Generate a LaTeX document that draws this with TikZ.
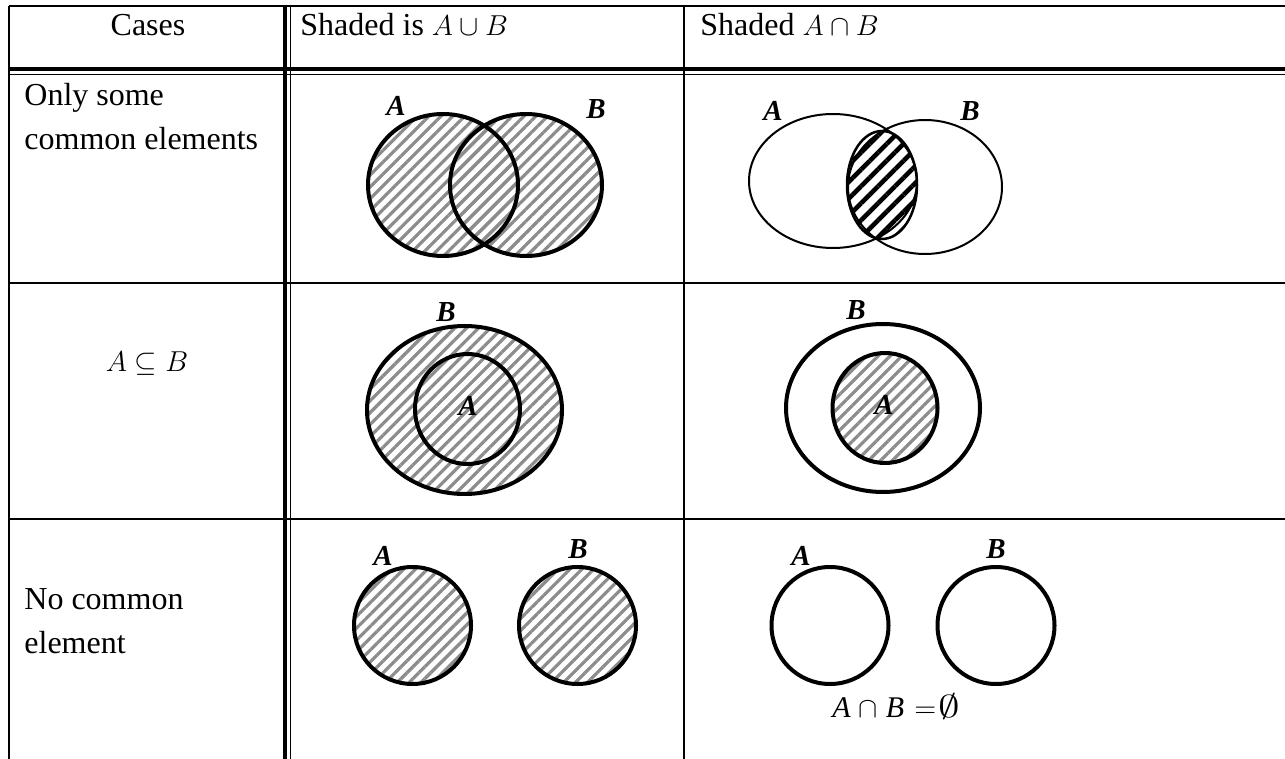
\documentclass[tikz,border=0pt]{standalone}
\usepackage{fontspec}
\setmainfont{Liberation Serif}
\usetikzlibrary{patterns.meta}
\newcommand\mth[1]{{\fontsize{13.5}{16}\selectfont$#1$}}
\tikzset{
  tbl/.style={line width=1.25pt},
  tblthick/.style={line width=1.75pt},
  tblthin/.style={line width=0.75pt},
  setthick/.style={line width=2pt},
  setthin/.style={line width=1pt},
  lensln/.style={line width=1.25pt},
  hatchgray/.style={pattern={Lines[angle=45,distance=4.2pt,line width=1.6pt]}, pattern color=black!45},
  hatchblack/.style={pattern={Lines[angle=45,distance=6pt,line width=2.3pt]}, pattern color=black},
  setlabel/.style={font=\fontsize{14.5}{14.5}\selectfont\bfseries\itshape, inner sep=0pt},
  celltext/.style={font=\fontsize{16}{19}\selectfont, inner sep=0pt},
}
\begin{document}
\begin{tikzpicture}[x=0.5pt,y=-0.5pt]
\useasboundingbox (0,0) rectangle (1285,759);
\fill[white] (0,0) rectangle (1285,759);
% ---- table rules
\draw[tbl] (9,6) -- (1285,6);
\draw[tbl] (9,6) -- (9,759);
\draw[tblthick] (285,6) -- (285,759);
\draw[tblthin] (290.5,6) -- (290.5,759);
\draw[tbl] (684,6) -- (684,759);
\draw[tblthick] (9,69) -- (1285,69);
\draw[tblthin] (9,74.5) -- (1285,74.5);
\draw[tbl] (9,283) -- (1285,283);
\draw[tbl] (9,519) -- (1285,519);
% ---- header
\node[celltext, anchor=base] (hcases) at (148,36) {Cases};
\node[celltext, anchor=base west] (hunion) at (300,36) {Shaded is \mth{A\cup B}};
\node[celltext, anchor=base west] (hinter) at (700,36) {Shaded \mth{A\cap B}};
% ---- case texts
\node[celltext, anchor=base west] (c1a) at (24,106) {Only some};
\node[celltext, anchor=base west] (c1b) at (24,150) {common elements};
\node[celltext] (c2) at (147,364) {\mth{A\subseteq B}};
\node[celltext, anchor=base west] (c3a) at (24,609) {No common};
\node[celltext, anchor=base west] (c3b) at (24,653) {element};
% ---- row 1, union
\path[hatchgray] (443,185) ellipse [x radius=75, y radius=71];
\path[hatchgray] (526,185) ellipse [x radius=76, y radius=71];
\draw[setthick] (443,185) ellipse [x radius=75, y radius=71];
\draw[setthick] (526,185) ellipse [x radius=76, y radius=71];
\node[setlabel] (u1a) at (396,106) {A};
\node[setlabel] (u1b) at (596,109) {B};
% ---- row 1, intersection
\draw[setthin] (833,181) ellipse [x radius=84, y radius=67];
\draw[setthin] (925,187) ellipse [x radius=77, y radius=67];
\path[hatchblack] (882,185) ellipse [x radius=35, y radius=54];
\draw[lensln] (882,185) ellipse [x radius=35, y radius=54];
\node[setlabel] (i1a) at (773,111) {A};
\node[setlabel] (i1b) at (970,111) {B};
% ---- row 2, union
\path[hatchgray] (464.5,410) ellipse [x radius=97.5, y radius=84];
\draw[setthick] (464.5,410) ellipse [x radius=97.5, y radius=84];
\draw[setthick] (467.5,409) ellipse [x radius=52.5, y radius=55];
\node[setlabel] (u2b) at (446,312) {B};
\node[setlabel] (u2a) at (468,406) {A};
% ---- row 2, intersection
\draw[setthick] (883,408) ellipse [x radius=97, y radius=84];
\path[hatchgray] (885,408) ellipse [x radius=52.5, y radius=55];
\draw[setthick] (885,408) ellipse [x radius=52.5, y radius=55];
\node[setlabel] (i2b) at (856,310) {B};
\node[setlabel] (i2a) at (884,405) {A};
% ---- row 3, union
\path[hatchgray] (412.5,625.5) circle [radius=58.5];
\path[hatchgray] (577.5,625.5) circle [radius=58.5];
\draw[setthick] (412.5,625.5) circle [radius=58.5];
\draw[setthick] (577.5,625.5) circle [radius=58.5];
\node[setlabel] (u3a) at (383,556) {A};
\node[setlabel] (u3b) at (578,549) {B};
% ---- row 3, intersection
\draw[setthick] (830,625.5) circle [radius=58.5];
\draw[setthick] (996,625.5) circle [radius=58.5];
\node[setlabel] (i3a) at (801,556) {A};
\node[setlabel] (i3b) at (996,549) {B};
\node[font=\fontsize{15}{15}\selectfont, inner sep=0pt, anchor=base west] (empty) at (832,717)
  {\itshape A\hspace{4pt}$\cap$\hspace{4pt}B\hspace{5pt}$=$\hspace{1pt}\scalebox{1.5}[1.1]{$\emptyset$}};
\end{tikzpicture}
\end{document}
